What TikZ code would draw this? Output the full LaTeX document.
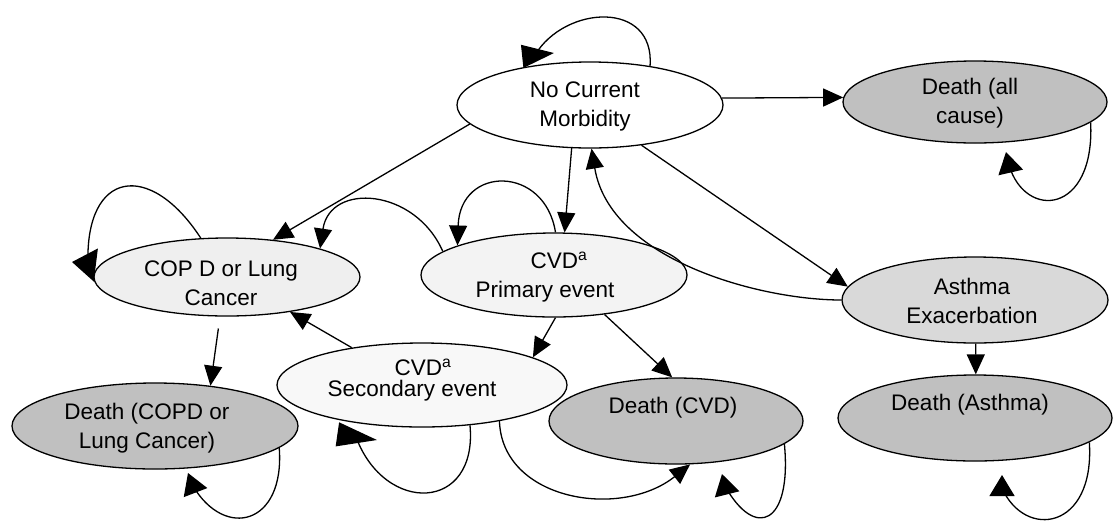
\documentclass[tikz,border=0pt]{standalone}
\usepackage{fontspec}
\setmainfont{Liberation Sans}
\usetikzlibrary{shapes.geometric,arrows.meta}
\definecolor{gDeath}{HTML}{C0C0C0}
\definecolor{gCopd}{HTML}{EFEFEF}
\definecolor{gCvdA}{HTML}{F3F3F3}
\definecolor{gCvdB}{HTML}{F8F8F8}
\definecolor{gAsth}{HTML}{D9D9D9}
\begin{document}
\begin{tikzpicture}[x=1pt,y=-1pt,
  st/.style={ellipse,draw=black,line width=1.3pt,inner sep=0pt},
  txt/.style={align=center,font=\fontsize{22.5}{29}\selectfont,inner sep=0pt},
  con/.style={line width=1.3pt,-{Triangle[length=20pt,width=18pt]}},
  loopa/.style={line width=1.3pt,-{Triangle[length=32pt,width=23pt]}},
  loopb/.style={line width=1.3pt,-{Triangle[length=24pt,width=33pt]}},
  loopc/.style={line width=1.3pt,-{Triangle[length=40pt,width=24pt]}},
  loopd/.style={line width=1.3pt,-{Triangle[length=21pt,width=25pt]}}
]
\useasboundingbox (0,0) rectangle (1115,520);

% states
\node[st,fill=white,minimum width=266pt,minimum height=86pt] (ncm) at (590,105) {};
\node[st,fill=gDeath,minimum width=264pt,minimum height=82pt] (dall) at (975,102) {};
\node[st,fill=gCopd,minimum width=266pt,minimum height=78pt] (copd) at (227,277) {};
\node[st,fill=gCvdA,minimum width=266pt,minimum height=84pt] (cvd1) at (554,275) {};
\node[st,fill=gAsth,minimum width=266pt,minimum height=86pt] (asth) at (975,300) {};
\node[st,fill=gCvdB,minimum width=290pt,minimum height=84pt] (cvd2) at (422,385) {};
\node[st,fill=gDeath,minimum width=286pt,minimum height=86pt] (dcopd) at (155,426) {};
\node[st,fill=gDeath,minimum width=254pt,minimum height=86pt] (dcvd) at (676,421) {};
\node[st,fill=gDeath,minimum width=274pt,minimum height=86pt] (dasth) at (975,418) {};

% labels
\node[txt] (ncmt) at (585,106) {No Current\\Morbidity};
\node[txt] (dallt) at (970,103) {Death (all\\cause)};
\node[txt] (copdt) at (221,283) {COP D or Lung\\Cancer};
\node[txt] (cvd1t) at (545,277) {\hspace*{28pt}CVD\textsuperscript{a}\\Primary event};
\node[txt] (astht) at (972,301) {Asthma\\Exacerbation};
\node[txt,font=\fontsize{22.5}{21}\selectfont] (cvd2t) at (412,380) {\hspace*{22pt}CVD\textsuperscript{a}\\Secondary event};
\node[txt] (dcopdt) at (147,428) {Death (COPD or\\Lung Cancer)};
\node[txt] (dcvdt) at (673,408) {Death (CVD)};
\node[txt] (dastht) at (970,405) {Death (Asthma)};

% transitions
\draw[con] (ncm.3) -- (dall.178);
\draw[con] (ncm.189) -- (copd.39);
\draw[con] (ncm.-113) -- (cvd1.76);
\draw[con] (ncm.-38) -- (asth.174);
\draw[con] (asth.180) .. controls (760,300) and (610,260) .. (ncm.-88);
\draw[con] (cvd1.168) .. controls (415,188) and (330,182) .. (copd.17);
\draw[con] (cvd1.-38) -- (dcvd.95);
\draw[con] (cvd1.-88) -- (cvd2.14);
\draw[con] (cvd2.152) -- (copd.-29);
\draw[con] (cvd2.-25) .. controls (502,500) and (620,520) .. (dcvd.-72);
\draw[con,shorten <=12pt] (copd.-100) -- (dcopd.36);
\draw[con] (asth.-89) -- (dasth.89);

% self loops
\draw[loopa] (ncm.33) .. controls (655,0) and (565,5) .. (535,55) -- (554,53);
\draw[con] (cvd1.88) .. controls (545,165) and (460,165) .. (cvd1.163);
\draw[loopb] (copd.124) .. controls (150,160) and (85,170) .. (88,264) -- (72,262);
\draw[loopc] (cvd2.-40) .. controls (478,512) and (385,515) .. (356,437) -- (377,440);
\draw[loopd] (dcopd.-10) .. controls (285,525) and (225,540) .. (193,486) -- (188,473);
\draw[loopd] (dcvd.-12) .. controls (792,525) and (755,540) .. (725,486) -- (722,474);
\draw[loopd] (dasth.-12) .. controls (1095,530) and (1025,540) .. (1002,488) -- (1002,475);
\draw[loopd] (dall.-10) .. controls (1095,215) and (1025,220) .. (1009,165) -- (1006,152);
\end{tikzpicture}
\end{document}
